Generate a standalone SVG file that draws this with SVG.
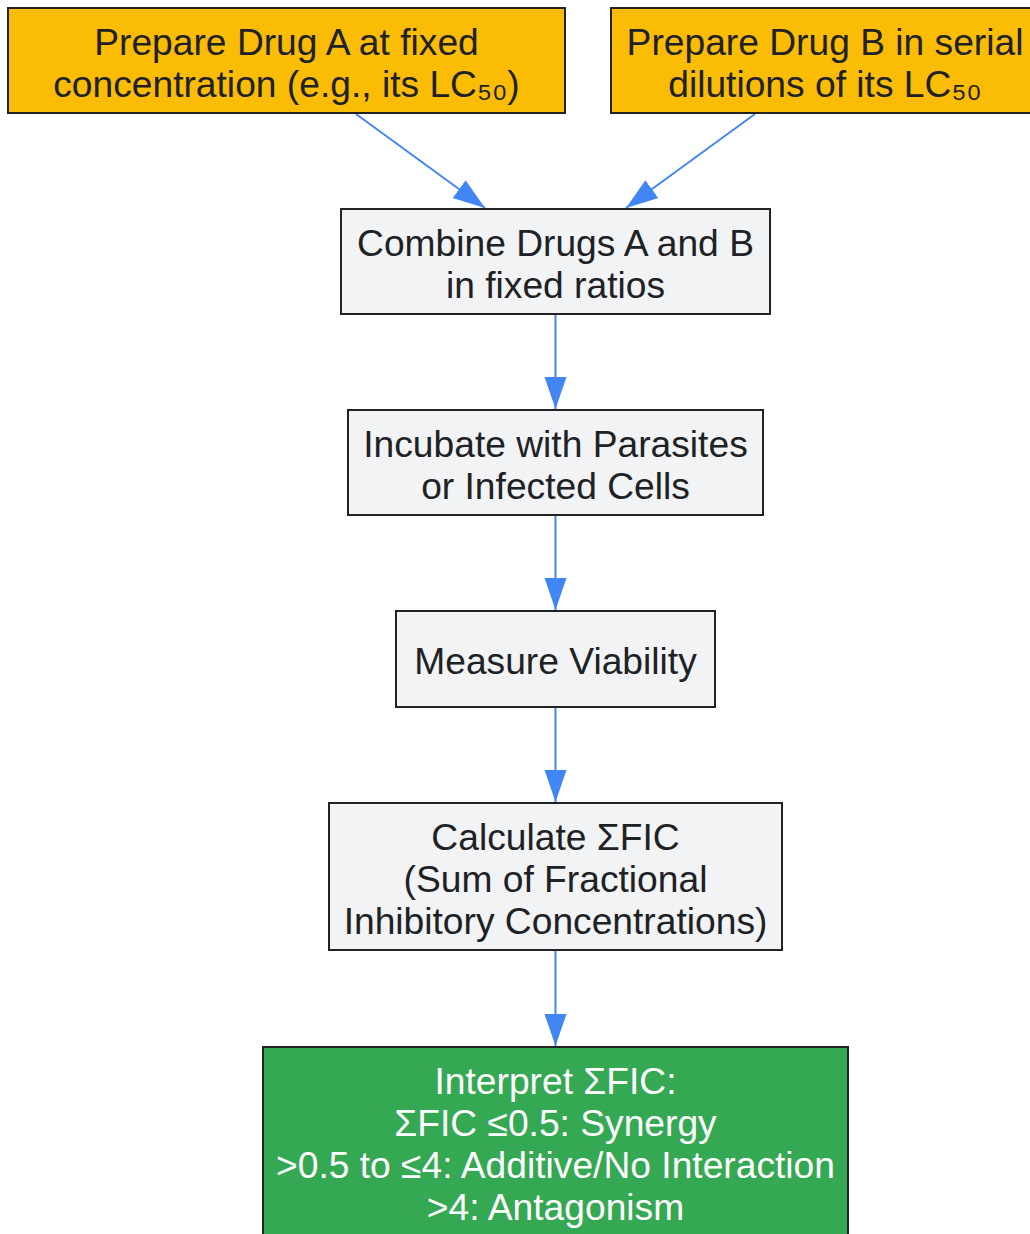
<svg xmlns="http://www.w3.org/2000/svg" width="1030" height="1234" viewBox="0 0 1030 1234">
<defs>
<style>
.box{stroke:#222;stroke-width:2}
.y{fill:#FBBC05}
.g{fill:#F1F3F4}
.gr{fill:#34A853}
text{font-family:"Liberation Sans",Arial,sans-serif;font-size:37.2px;fill:#202124;text-anchor:middle}
.w{fill:#ffffff}
.edge{stroke:#4285F4;stroke-width:2;fill:none}
</style>
<marker id="arr" markerUnits="userSpaceOnUse" markerWidth="32" markerHeight="24" refX="32" refY="12" orient="auto">
<path d="M0,1 L32,12 L0,23 z" fill="#4285F4"/>
</marker>
</defs>
<rect width="1030" height="1234" fill="#ffffff"/>
<g id="connectors">
<path class="edge" d="M356,114 L485,208" marker-end="url(#arr)"/>
<path class="edge" d="M755,114 L626,208" marker-end="url(#arr)"/>
<path class="edge" d="M555.5,315 L555.5,409" marker-end="url(#arr)"/>
<path class="edge" d="M555.5,516 L555.5,610" marker-end="url(#arr)"/>
<path class="edge" d="M555.5,708 L555.5,802" marker-end="url(#arr)"/>
<path class="edge" d="M555.5,951 L555.5,1046" marker-end="url(#arr)"/>
</g>
<g id="nodeA">
<rect class="box y" x="8" y="8" width="557" height="105"/>
<text x="286.5" y="55">Prepare Drug A at fixed</text>
<text x="286.5" y="97">concentration (e.g., its LC₅₀)</text>
</g>
<g id="nodeB">
<rect class="box y" x="611" y="8" width="430" height="105"/>
<text x="825" y="55">Prepare Drug B in serial</text>
<text x="825" y="97">dilutions of its LC₅₀</text>
</g>
<g id="nodeCombine">
<rect class="box g" x="341" y="209" width="429" height="105"/>
<text x="555.5" y="256">Combine Drugs A and B</text>
<text x="555.5" y="298">in fixed ratios</text>
</g>
<g id="nodeIncubate">
<rect class="box g" x="348" y="410" width="415" height="105"/>
<text x="555.5" y="457">Incubate with Parasites</text>
<text x="555.5" y="499">or Infected Cells</text>
</g>
<g id="nodeMeasure">
<rect class="box g" x="396" y="611" width="319" height="96"/>
<text x="555.5" y="674">Measure Viability</text>
</g>
<g id="nodeCalculate">
<rect class="box g" x="329" y="803" width="453" height="147"/>
<text x="555.5" y="850">Calculate ΣFIC</text>
<text x="555.5" y="892">(Sum of Fractional</text>
<text x="555.5" y="934">Inhibitory Concentrations)</text>
</g>
<g id="nodeInterpret">
<rect class="box gr" x="263" y="1047" width="585" height="200"/>
<text class="w" x="555.5" y="1094">Interpret ΣFIC:</text>
<text class="w" x="555.5" y="1136">ΣFIC ≤0.5: Synergy</text>
<text class="w" x="555.5" y="1178">&gt;0.5 to ≤4: Additive/No Interaction</text>
<text class="w" x="555.5" y="1220">&gt;4: Antagonism</text>
</g>
</svg>
